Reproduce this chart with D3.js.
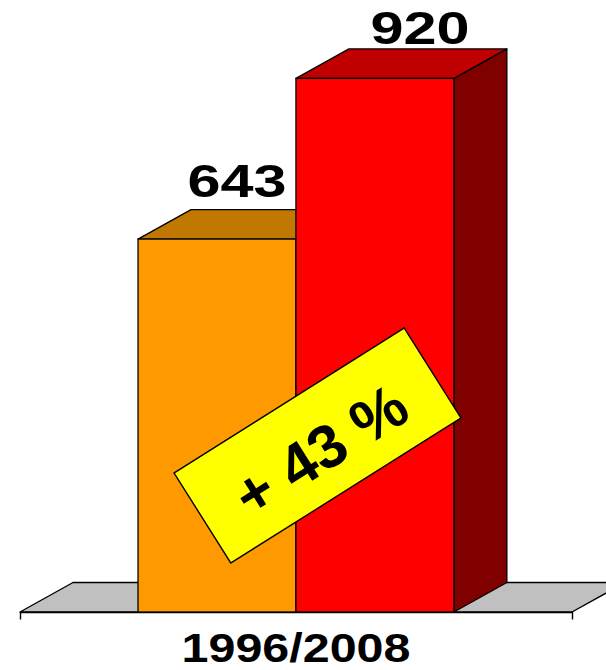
<!DOCTYPE html>
<html>
<head>
<meta charset="utf-8">
<script src="https://cdn.jsdelivr.net/npm/d3@7/dist/d3.min.js"></script>
<style>
  html, body { margin: 0; padding: 0; background: #fff; }
  svg { display: block; }
  text { font-family: "Liberation Sans", Arial, Helvetica, sans-serif; font-weight: bold; }
</style>
</head>
<body>
<svg id="chart" width="606" height="670"></svg>
<script>
// ---- data ----
const categories = ["1996/2008"];
const seriesNames = ["1996", "2008"];
const values = [643, 920];
const frontColors = ["#FF9900", "#FF0000"];
const topColors = ["#C07800", "#C00000"];
const sideColors = ["#A05F00", "#800000"];
const yDomain = [0, 1000];

// ---- layout ----
const baseY = 612;
const depthX = 53, depthY = 29.5;
const svg = d3.select("#chart");

const x0 = d3.scaleBand().domain(categories).range([20, 572]).padding(0);
const x1 = d3.scaleBand().domain(seriesNames)
  .range([x0.bandwidth() * 0.2138, x0.bandwidth() * 0.786]).padding(0);
const y = d3.scaleLinear().domain(yDomain).range([baseY, 32]);

// floor
const fl = x0.range()[0], fr = x0.range()[1];
svg.append("path")
  .attr("d", `M${fl},${baseY}L${fl + depthX},${baseY - depthY}L${fr + depthX},${baseY - depthY}L${fr},${baseY}Z`)
  .attr("fill", "#C0C0C0").attr("stroke", "#000").attr("stroke-width", 1.4)
  .attr("stroke-linejoin", "round");

// axis (outer ticks at floor edges)
const axis = d3.axisBottom(x0).tickSize(0).tickSizeOuter(7.5).tickPadding(0);
const gAxis = svg.append("g").attr("transform", `translate(0,${baseY})`).call(axis);
gAxis.select(".domain").attr("stroke", "#000").attr("stroke-width", 1.4);
gAxis.selectAll(".tick text")
  .attr("font-size", 40).attr("fill", "#000")
  .attr("y", 49.5).attr("dy", 0)
  .attr("textLength", 229).attr("lengthAdjust", "spacingAndGlyphs")
  .style("font-family", "'Liberation Sans', Arial, sans-serif").style("font-weight", "bold");

// bars
const bars = seriesNames.map((s, i) => ({ s, i, v: values[i], cat: categories[0] }));
const g = svg.append("g");
bars.forEach(d => {
  const xl = x0(d.cat) + x1(d.s);
  const xr = xl + x1.bandwidth();
  const yt = y(d.v);
  const gb = g.append("g");
  // side
  gb.append("path")
    .attr("d", `M${xr},${baseY}L${xr + depthX},${baseY - depthY}L${xr + depthX},${yt - depthY}L${xr},${yt}Z`)
    .attr("fill", sideColors[d.i]).attr("stroke", "#000").attr("stroke-width", 1.3).attr("stroke-linejoin", "round");
  // top
  gb.append("path")
    .attr("d", `M${xl},${yt}L${xl + depthX},${yt - depthY}L${xr + depthX},${yt - depthY}L${xr},${yt}Z`)
    .attr("fill", topColors[d.i]).attr("stroke", "#000").attr("stroke-width", 1.3).attr("stroke-linejoin", "round");
  // front
  gb.append("rect")
    .attr("x", xl).attr("y", yt).attr("width", xr - xl).attr("height", baseY - yt)
    .attr("fill", frontColors[d.i]).attr("stroke", "#000").attr("stroke-width", 1.3);
});

// value labels
const labelDx = [20, 45];
const labelDy = [42, 34];
bars.forEach(d => {
  const xc = x0(d.cat) + x1(d.s) + x1.bandwidth() / 2;
  svg.append("text")
    .attr("x", xc + labelDx[d.i]).attr("y", y(d.v) - labelDy[d.i])
    .attr("text-anchor", "middle").attr("font-size", 46).attr("fill", "#000")
    .attr("textLength", 99).attr("lengthAdjust", "spacingAndGlyphs")
    .text(d3.format("d")(d.v));
});

// growth callout
const growth = Math.round((values[1] / values[0] - 1) * 100);
const cx = 317.5, cy = 445.5, angle = -32.2, bw = 272, bh = 106.5;
const call = svg.append("g").attr("transform", `translate(${cx},${cy}) rotate(${angle})`);
call.append("rect")
  .attr("x", -bw / 2).attr("y", -bh / 2).attr("width", bw).attr("height", bh)
  .attr("fill", "#FFFF00").attr("stroke", "#000").attr("stroke-width", 1.4);
call.append("text")
  .attr("x", 0).attr("y", 27).attr("text-anchor", "middle")
  .attr("font-size", 61).attr("fill", "#000")
  .text(`+ ${growth} %`);
</script>
</body>
</html>
